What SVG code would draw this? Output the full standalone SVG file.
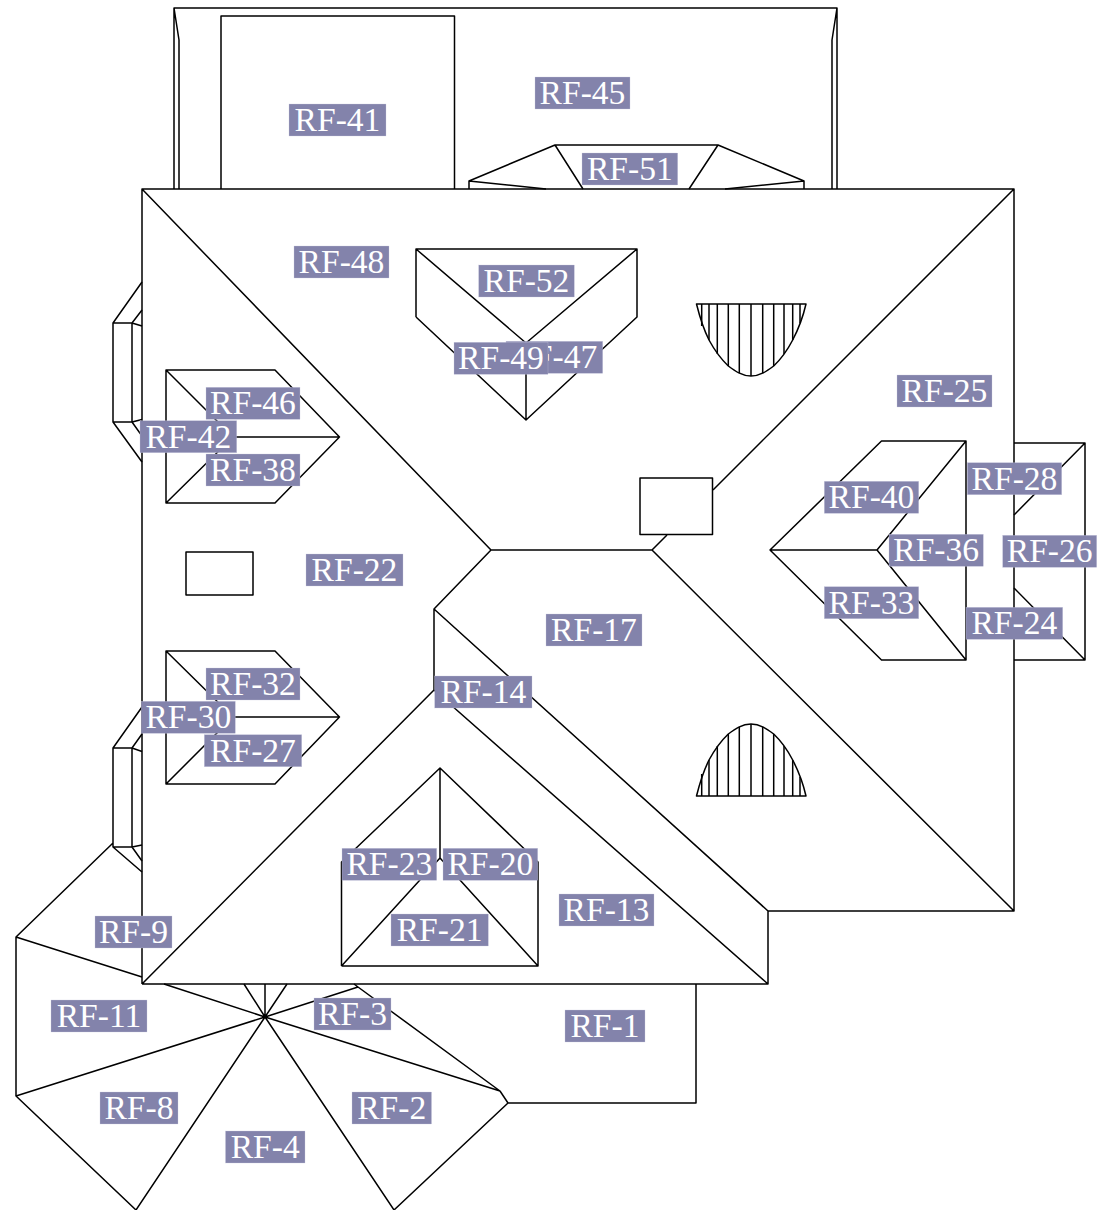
<svg xmlns="http://www.w3.org/2000/svg" width="1102" height="1210" viewBox="0 0 1102 1210">
<style>
.l{fill:none;stroke:#000;stroke-width:1.5;stroke-linejoin:round}
.b{fill:#8383ab;stroke:#c8c8dc;stroke-width:.3}
.t{font-family:"Liberation Serif",serif;font-size:33.6px;fill:#fff;text-anchor:middle}
</style>
<rect width="1102" height="1210" fill="#fff"/>
<g id="roof-lines" class="l">
<path d="M174 189V8H837V189M174 8L179 40V189M837 8L832 40V189"/>
<path d="M221 189V16H454.500V189"/>
<path d="M469 189V181L555 145H718L804 181V189M469 181L546 189M555 145L583 189M718 145L689 189M804 181L725 189"/>
<path d="M142 984V189H1014V911H768V984H142M142 189L491 550H652L1014 911M1014 189L713 490M652 550L667 535M491 550L434 609V690L142 984M434 609L768 911M434 690L768 984"/>
<rect x="640" y="478" width="72.500" height="56.500"/>
<rect x="186" y="552" width="67" height="43"/>
<path d="M416 317V249H637V317L526 420L416 317M416 249L526 343L637 249M526 343V420"/>
<path d="M696.500 304H806C803 317 800 326 792.700 340C787 351 780 360 773.700 366C767 371 760 376 751 376C742 376 735 371 728.300 366C722 360 715 351 709 340C703 328 700 318 696.500 304Z"/>
<path d="M701.700 304V326M709 304V340M717.300 304V354M728.300 304V366M739.300 304V373M751 304V376M762.700 304V373M773.700 304V366M784 304V354M792.700 304V340M800 304V323"/>
<path d="M696.500 796H806C803 783 800 774 792.700 760C787 749 780 740 773.700 734C767 729 760 724 751 724C742 724 735 729 728.300 734C722 740 715 749 709 760C703 772 700 782 696.500 796Z"/>
<path d="M701.700 796V774M709 796V760M717.300 796V746M728.300 796V734M739.300 796V727M751 796V724M762.700 796V727M773.700 796V734M784 796V746M792.700 796V760M800 796V777"/>
<path d="M142 282L113 323V422L142 462M113 323H132V422H113M132 323L142 310M132 323L142 326M132 422L142 419.500M132 422L142 436"/>
<path d="M142 707L113 748V847L142 872M113 748H132V847H113M132 748L142 734M132 748L142 751.500M132 847L142 845M132 847L142 861M113 843L16 937V1096L136 1210M16 937L142 977"/>
<path d="M164 984L265 1017L358 987L354 984M358 987L500 1091L508 1103H696V984M244 984L265 1017V984M287 984L265 1017L500 1091M508 1103L394 1210L265 1017L136 1210M265 1017L16 1096"/>
<path d="M233 437H339.500L275 370H166V503H275L339.500 437M166 370L233 437L166 503"/>
<path d="M233 717H339.500L275 651H166V784H275L339.500 717M166 651L233 717L166 784"/>
<path d="M877 550H770L881.500 441H966V660H881.500L770 550M966 441L877 550L966 660"/>
<path d="M1014 443H1085V660H1014M1085 443L1014 515M1085 660L1014 588"/>
<path d="M341.500 966V862L440 768L538 862V966H341.500M440 768V858M341.500 966L440 858L538 966"/>
</g>
<g id="labels">
<g id="rf-41"><rect class="b" x="289" y="104" width="97" height="32"/><text class="t" x="337.500" y="131">RF-41</text></g>
<g id="rf-45"><rect class="b" x="535" y="77" width="95" height="32"/><text class="t" x="582.500" y="104">RF-45</text></g>
<g id="rf-51"><rect class="b" x="582" y="153" width="95.700" height="32"/><text class="t" x="629.800" y="180">RF-51</text></g>
<g id="rf-48"><rect class="b" x="294" y="246" width="95" height="32"/><text class="t" x="341.500" y="273">RF-48</text></g>
<g id="rf-52"><rect class="b" x="478.700" y="265" width="95.600" height="32"/><text class="t" x="526.500" y="292">RF-52</text></g>
<g id="rf-47"><rect class="b" x="506" y="341.300" width="96.700" height="32"/><text class="t" x="554.300" y="368.300">RF-47</text></g>
<g id="rf-49"><rect class="b" x="454" y="342.300" width="94" height="32"/><text class="t" x="501" y="369.300">RF-49</text></g>
<g id="rf-25"><rect class="b" x="897" y="375" width="95" height="32"/><text class="t" x="944.500" y="402">RF-25</text></g>
<g id="rf-46"><rect class="b" x="206" y="387.300" width="94" height="32"/><text class="t" x="253" y="414.300">RF-46</text></g>
<g id="rf-42"><rect class="b" x="140" y="420.700" width="96.700" height="32"/><text class="t" x="188.300" y="447.700">RF-42</text></g>
<g id="rf-38"><rect class="b" x="206" y="454" width="94" height="32"/><text class="t" x="253" y="481">RF-38</text></g>
<g id="rf-28"><rect class="b" x="967.300" y="462.700" width="94.400" height="32"/><text class="t" x="1014.500" y="489.700">RF-28</text></g>
<g id="rf-40"><rect class="b" x="824.300" y="481.300" width="94.400" height="32"/><text class="t" x="871.500" y="508.300">RF-40</text></g>
<g id="rf-36"><rect class="b" x="889" y="534.300" width="94.300" height="32"/><text class="t" x="936.200" y="561.300">RF-36</text></g>
<g id="rf-26"><rect class="b" x="1002.700" y="535.300" width="94" height="32"/><text class="t" x="1049.700" y="562.300">RF-26</text></g>
<g id="rf-22"><rect class="b" x="306" y="554" width="97" height="32"/><text class="t" x="354.500" y="581">RF-22</text></g>
<g id="rf-33"><rect class="b" x="824.300" y="586.700" width="94.400" height="32"/><text class="t" x="871.500" y="613.700">RF-33</text></g>
<g id="rf-24"><rect class="b" x="966" y="607.300" width="96.700" height="32"/><text class="t" x="1014.300" y="634.300">RF-24</text></g>
<g id="rf-17"><rect class="b" x="546" y="614" width="96" height="32"/><text class="t" x="594" y="641">RF-17</text></g>
<g id="rf-32"><rect class="b" x="206" y="668" width="94" height="32"/><text class="t" x="253" y="695">RF-32</text></g>
<g id="rf-14"><rect class="b" x="434.700" y="676" width="97.300" height="32"/><text class="t" x="483.300" y="703">RF-14</text></g>
<g id="rf-30"><rect class="b" x="141.300" y="701.300" width="94" height="32"/><text class="t" x="188.300" y="728.300">RF-30</text></g>
<g id="rf-27"><rect class="b" x="204.300" y="734.700" width="97.400" height="32"/><text class="t" x="253" y="761.700">RF-27</text></g>
<g id="rf-23"><rect class="b" x="342" y="848.300" width="94.700" height="32"/><text class="t" x="389.300" y="875.300">RF-23</text></g>
<g id="rf-20"><rect class="b" x="443" y="848.300" width="94.700" height="32"/><text class="t" x="490.300" y="875.300">RF-20</text></g>
<g id="rf-13"><rect class="b" x="559" y="894" width="95" height="32"/><text class="t" x="606.500" y="921">RF-13</text></g>
<g id="rf-21"><rect class="b" x="391" y="914" width="97.300" height="32"/><text class="t" x="439.600" y="941">RF-21</text></g>
<g id="rf-9"><rect class="b" x="95" y="916" width="77" height="32"/><text class="t" x="133.500" y="943">RF-9</text></g>
<g id="rf-3"><rect class="b" x="314" y="998" width="77" height="32"/><text class="t" x="352.500" y="1025">RF-3</text></g>
<g id="rf-11"><rect class="b" x="51" y="1000" width="96" height="32"/><text class="t" x="99" y="1027">RF-11</text></g>
<g id="rf-1"><rect class="b" x="565" y="1010" width="80" height="32"/><text class="t" x="605" y="1037">RF-1</text></g>
<g id="rf-8"><rect class="b" x="100" y="1092" width="78" height="32"/><text class="t" x="139" y="1119">RF-8</text></g>
<g id="rf-2"><rect class="b" x="352" y="1092" width="79.500" height="32"/><text class="t" x="391.700" y="1119">RF-2</text></g>
<g id="rf-4"><rect class="b" x="225.500" y="1131" width="79.500" height="32"/><text class="t" x="265.200" y="1158">RF-4</text></g>
</g>
</svg>
